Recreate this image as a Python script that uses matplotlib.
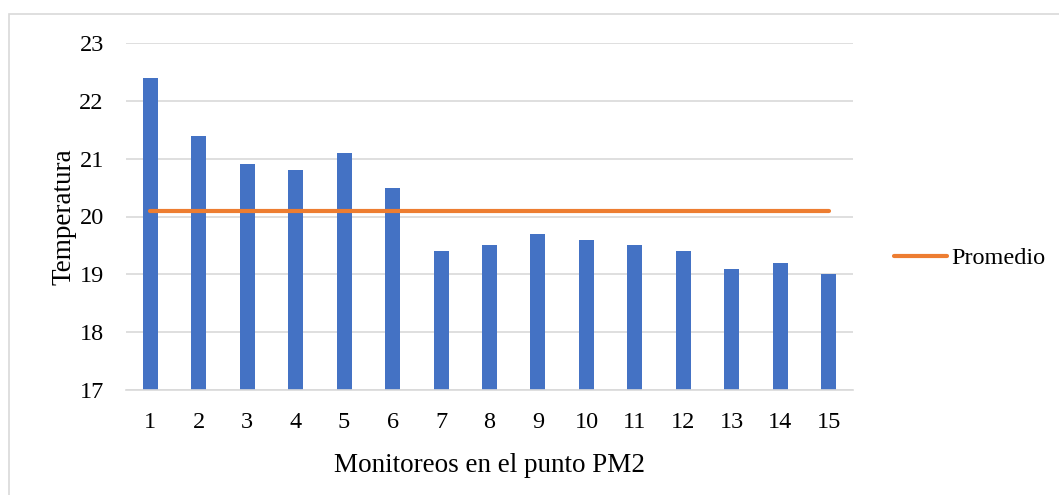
import matplotlib.pyplot as plt
import matplotlib.ticker as ticker
from matplotlib.patches import Rectangle

# Datos
monitoreos = ["1", "2", "3", "4", "5", "6", "7", "8", "9", "10", "11", "12", "13", "14", "15"]
temperatura = [22.4, 21.4, 20.9, 20.8, 21.1, 20.5, 19.4, 19.5, 19.7, 19.6, 19.5, 19.4, 19.1, 19.2, 19.0]
promedio = [20.1] * 15

plt.rcParams['font.family'] = ['Liberation Serif', 'DejaVu Serif']

fig = plt.figure(figsize=(10.59, 4.95), dpi=100)
ax = fig.add_axes([126/1059, 105/495, (853-126)/1059, (390-43)/495])

x = list(range(len(monitoreos)))
ax.bar(x, temperatura, width=0.31, color='#4472C4', zorder=2)
ax.plot(x, promedio, color='#ED7D31', linewidth=3, solid_capstyle='round', label='Promedio', zorder=3)

ax.set_xlim(-0.5, len(monitoreos) - 0.5)
ax.set_ylim(17, 23)
ax.yaxis.set_major_locator(ticker.MultipleLocator(1))
ax.set_xticks(x)
ax.set_xticklabels(monitoreos)
ax.yaxis.grid(True, color='#D9D9D9', linewidth=1.2, zorder=0)
ax.set_axisbelow(True)
for s in ['top', 'right', 'left']:
    ax.spines[s].set_visible(False)
ax.spines['bottom'].set_color('#D9D9D9')
ax.spines['bottom'].set_linewidth(1.2)
ax.tick_params(axis='both', length=0, labelsize=17.5, colors='black')
ax.tick_params(axis='x', pad=16)
ax.tick_params(axis='y', pad=16)

ax.set_xlabel('Monitoreos en el punto PM2', fontsize=19.5, labelpad=14)
ax.set_ylabel('Temperatura', fontsize=19.5, labelpad=2)

fig.legend(loc='center left', bbox_to_anchor=(884/1059, 1 - 258/495), frameon=False,
           fontsize=17.5, handlelength=2.2, handletextpad=0.15, borderaxespad=0)

# borde del grafico (solo se ven los lados superior e izquierdo)
fig.patches.append(Rectangle((9/1059, -0.05), 1.1, 1.05 - 14/495, transform=fig.transFigure,
                             fill=False, edgecolor='#D9D9D9', linewidth=1.2))

fig.savefig('out.png', dpi=100)
